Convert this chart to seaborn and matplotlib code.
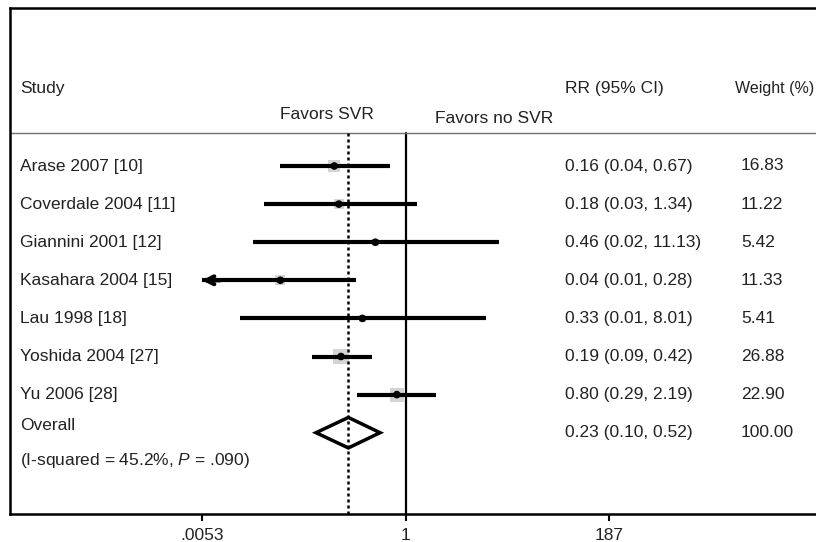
import numpy as np
import seaborn as sns
import matplotlib.pyplot as plt
import matplotlib.transforms as mtransforms

# study rows (top to bottom)
studies = ['Arase 2007 [10]', 'Coverdale 2004 [11]', 'Giannini 2001 [12]',
           'Kasahara 2004 [15]', 'Lau 1998 [18]', 'Yoshida 2004 [27]', 'Yu 2006 [28]']
rr = [0.16, 0.18, 0.46, 0.04, 0.33, 0.19, 0.80]
ci_low = [0.04, 0.026, 0.02, 0.0052, 0.014, 0.09, 0.29]
ci_high = [0.67, 1.34, 11.13, 0.28, 8.01, 0.42, 2.19]
weights = [16.83, 11.22, 5.42, 11.33, 5.41, 26.88, 22.90]

overall_rr = 0.23
overall_low = 0.10
overall_high = 0.52
overall_weight = 100.00
overall_stats = '(I-squared = 45.2%, $\\it{P}$ = .090)'

xticks = [0.0053, 1, 187]
xtick_labels = ['.0053', '1', '187']

sns.set_theme(style='white')
plt.rcParams['font.family'] = ['Liberation Sans', 'DejaVu Sans']
plt.rcParams['mathtext.fontset'] = 'custom'
plt.rcParams['mathtext.rm'] = 'Liberation Sans'
plt.rcParams['mathtext.it'] = 'Liberation Sans:italic'

W, H = 816, 542
fig = plt.figure(figsize=(W / 100, H / 100), dpi=100)
# axes frame in pixels: left 10, right 830 (past edge), top 8, bottom 514
ax = fig.add_axes([10 / W, (H - 514) / H, 820 / W, (514 - 8) / H])
ax.set_xscale('log')

px_per_dec = 89.5
x_one = 405.5
def px_to_x(p):
    return 10 ** ((p - x_one) / px_per_dec)

row_px = 38.1
def py_to_row(p):
    return 1 + (p - 166) / row_px

ax.set_xlim(px_to_x(10), px_to_x(830))
ax.set_ylim(py_to_row(514), py_to_row(8))

rows = np.arange(1, len(studies) + 1)
txt = '#222222'
fs = 12.5

# weight squares (faint grey)
sns.scatterplot(x=rr, y=rows, marker='s', s=np.array(weights) * 4.5,
                color='#d4d4d4', edgecolor='none', ax=ax, zorder=2, legend=False)

# confidence intervals, clipped with arrows at the display range
lo_lim, hi_lim = xticks[0], xticks[-1]
for r, lo, hi in zip(rows, ci_low, ci_high):
    a = max(lo, lo_lim)
    b = min(hi, hi_lim)
    ax.plot([a, b], [r, r], color='black', lw=3, solid_capstyle='butt', zorder=3)
    if lo < lo_lim:
        ax.annotate('', xy=(a, r), xytext=(a * 1.6, r),
                    arrowprops=dict(arrowstyle='->', lw=3, color='black',
                                    mutation_scale=14, shrinkA=0, shrinkB=0),
                    zorder=4)

# point estimates
sns.scatterplot(x=rr, y=rows, marker='o', s=30, color='black',
                edgecolor='none', ax=ax, zorder=4, legend=False)

# overall diamond
orow = len(studies) + 1
dh = 0.4
ax.fill([overall_low, overall_rr, overall_high, overall_rr],
        [orow, orow - dh, orow, orow + dh],
        facecolor='white', edgecolor='black', lw=2.5, zorder=3)

# reference lines
y_hdr = py_to_row(133)
ax.plot([1, 1], [y_hdr, py_to_row(514)], color='black', lw=1.6, zorder=1)
ax.plot([overall_rr, overall_rr], [y_hdr, py_to_row(514)], color='black',
        lw=1.8, ls=(0, (1.2, 1.2)), zorder=5)
ax.axhline(y_hdr, color='#707070', lw=1.0, zorder=1)

# text columns (x in axes fraction)
tr = mtransforms.blended_transform_factory(ax.transAxes, ax.transData)
def fx(p):
    return (p - 10) / 820

ax.text(fx(20), py_to_row(88), 'Study', transform=tr, fontsize=fs, color=txt, va='center')
ax.text(fx(565), py_to_row(88), 'RR (95% CI)', transform=tr, fontsize=fs, color=txt, va='center')
ax.text(fx(735), py_to_row(88), 'Weight (%)', transform=tr, fontsize=11.5, color=txt, va='center')
ax.text(fx(327), py_to_row(114), 'Favors SVR', transform=tr, fontsize=fs, color=txt,
        va='center', ha='center')
ax.text(fx(494), py_to_row(118), 'Favors no SVR', transform=tr, fontsize=fs, color=txt,
        va='center', ha='center')

for r, name, v, lo, hi, w in zip(rows, studies, rr, ci_low, ci_high, weights):
    ax.text(fx(20), r, name, transform=tr, fontsize=fs, color=txt, va='center')
    ax.text(fx(565), r, f'{v:.2f} ({lo:.2f}, {hi:.2f})', transform=tr,
            fontsize=fs, color=txt, va='center')
    ax.text(fx(741), r, f'{w:.2f}', transform=tr, fontsize=fs, color=txt, va='center')

ax.text(fx(20), py_to_row(425), 'Overall', transform=tr, fontsize=fs, color=txt, va='center')
ax.text(fx(20), py_to_row(461), overall_stats, transform=tr, fontsize=fs, color=txt, va='center')
ax.text(fx(565), orow, f'{overall_rr:.2f} ({overall_low:.2f}, {overall_high:.2f})',
        transform=tr, fontsize=fs, color=txt, va='center')
ax.text(fx(741), orow, f'{overall_weight:.2f}', transform=tr, fontsize=fs, color=txt, va='center')

# axes styling
ax.set_xticks(xticks)
ax.set_xticklabels(xtick_labels, fontsize=fs, color=txt)
ax.minorticks_off()
ax.set_yticks([])
ax.tick_params(axis='x', direction='out', length=5, width=1.5, color='black', pad=5, bottom=True)
for side in ['top', 'left', 'bottom']:
    ax.spines[side].set_color('black')
    ax.spines[side].set_linewidth(1.8)
ax.spines['right'].set_visible(False)
ax.grid(False)

fig.savefig('out.png', dpi=100)
